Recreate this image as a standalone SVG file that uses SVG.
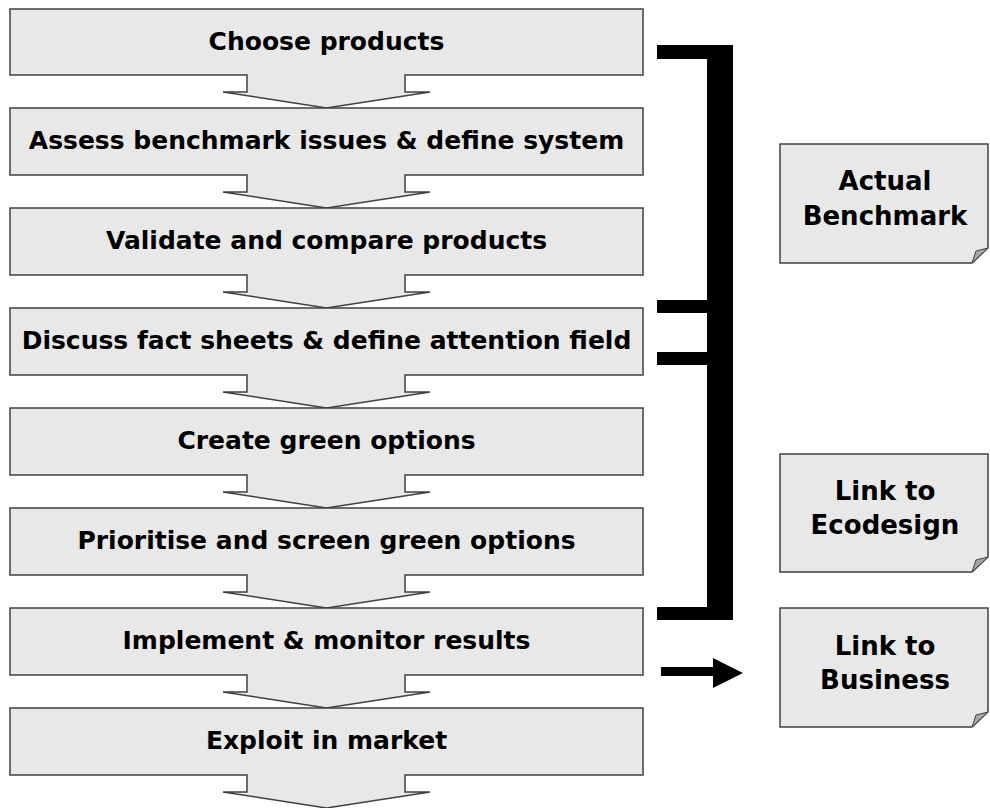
<svg xmlns="http://www.w3.org/2000/svg" width="990" height="808" viewBox="0 0 990 808">
<style>
.step{fill:#e8e8e8;stroke:#404040;stroke-width:1.5;stroke-linejoin:miter}
.note{fill:#e8e8e8;stroke:#404040;stroke-width:1.5}
.curl{fill:#a8a8a8;stroke:#404040;stroke-width:1}
.t{font-family:"DejaVu Sans",Verdana,sans-serif;font-weight:bold;font-size:25px;fill:#000;text-anchor:middle}
.nt{font-family:"DejaVu Sans",Verdana,sans-serif;font-weight:bold;font-size:26px;fill:#000;text-anchor:middle}
</style>
<rect width="990" height="808" fill="#fff"/>
<g id="step1"><path class="step" d="M10,9 H643 V75 H405 V92 H430 L326.5,108 L223,92 H247 V75 H10 Z"/><text class="t" x="326.5" y="50">Choose products</text></g>
<g id="step2"><path class="step" d="M10,108 H643 V175 H405 V192 H430 L326.5,208 L223,192 H247 V175 H10 Z"/><text class="t" x="326.5" y="149">Assess benchmark issues &amp; define system</text></g>
<g id="step3"><path class="step" d="M10,208 H643 V275 H405 V292 H430 L326.5,308 L223,292 H247 V275 H10 Z"/><text class="t" x="326.5" y="249">Validate and compare products</text></g>
<g id="step4"><path class="step" d="M10,308 H643 V375 H405 V392 H430 L326.5,408 L223,392 H247 V375 H10 Z"/><text class="t" x="326.5" y="349">Discuss fact sheets &amp; define attention field</text></g>
<g id="step5"><path class="step" d="M10,408 H643 V475 H405 V492 H430 L326.5,508 L223,492 H247 V475 H10 Z"/><text class="t" x="326.5" y="449">Create green options</text></g>
<g id="step6"><path class="step" d="M10,508 H643 V575 H405 V592 H430 L326.5,608 L223,592 H247 V575 H10 Z"/><text class="t" x="326.5" y="549">Prioritise and screen green options</text></g>
<g id="step7"><path class="step" d="M10,608 H643 V675 H405 V692 H430 L326.5,708 L223,692 H247 V675 H10 Z"/><text class="t" x="326.5" y="649">Implement &amp; monitor results</text></g>
<g id="step8"><path class="step" d="M10,708 H643 V775 H405 V792 H430 L326.5,808 L223,792 H247 V775 H10 Z"/><text class="t" x="326.5" y="749">Exploit in market</text></g>
<g id="note-benchmark"><path class="note" d="M780,144 H988 V248 L972,263 H780 Z"/><path class="curl" d="M972,263 L976,251 L988,248 Z"/><text class="nt" x="885" y="190">Actual</text><text class="nt" x="885" y="225">Benchmark</text></g>
<g id="note-ecodesign"><path class="note" d="M780,454 H988 V557 L972,572 H780 Z"/><path class="curl" d="M972,572 L976,560 L988,557 Z"/><text class="nt" x="885" y="500">Link to</text><text class="nt" x="885" y="534">Ecodesign</text></g>
<g id="note-business"><path class="note" d="M780,608 H988 V712 L972,727 H780 Z"/><path class="curl" d="M972,727 L976,715 L988,712 Z"/><text class="nt" x="885" y="655">Link to</text><text class="nt" x="885" y="689">Business</text></g>
<g id="connectors">
<path fill="#000" d="M657,45 H733 V620 H657 V607 H707 V365 H657 V352 H707 V313 H657 V300 H707 V59 H657 Z"/>
<path fill="#000" d="M661,667 H713 V658 L743,673 L713,688 V676 H661 Z"/>
</g>
</svg>
